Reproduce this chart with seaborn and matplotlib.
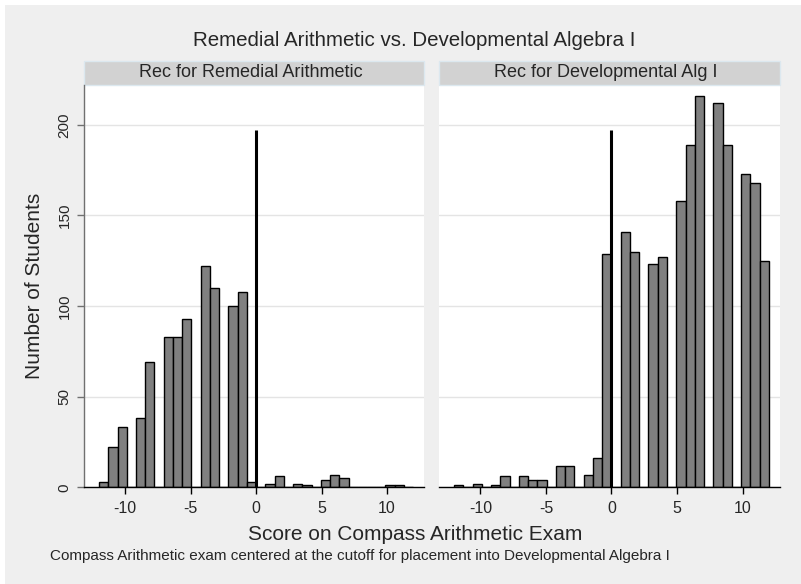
import numpy as np
import pandas as pd
import matplotlib
matplotlib.use("Agg")
import matplotlib.pyplot as plt
import seaborn as sns
from matplotlib.patches import Rectangle

# bins: 34 equal bins from -12 to 12 (Stata default)
bin_edges = list(np.linspace(-12, 12, 35))
bin_centers = [(a + b) / 2 for a, b in zip(bin_edges[:-1], bin_edges[1:])]

panels = ["Rec for Remedial Arithmetic", "Rec for Developmental Alg I"]

# counts per bin
remedial_counts = [3, 22, 33, 0, 38, 69, 0, 83, 83, 93, 0, 122, 110, 0, 100, 108, 3,
                   0, 2, 6, 0, 2, 1, 0, 4, 7, 5, 0, 0, 0, 0, 1, 1, 0]
devalg_counts = [1, 0, 2, 0, 1, 6, 0, 6, 4, 4, 0, 12, 12, 0, 7, 16, 129,
                 0, 141, 130, 0, 123, 127, 0, 158, 189, 216, 0, 212, 189, 0, 173, 168, 125]

cutoff = 0
cutoff_line_top = 197

df = pd.DataFrame({
    "panel": np.repeat(panels, len(bin_centers)),
    "score": bin_centers * 2,
    "count": remedial_counts + devalg_counts,
})

sns.set_style("white")
plt.rcParams['font.family'] = ['Liberation Sans', 'DejaVu Sans']
plt.rcParams['axes.unicode_minus'] = False

bg = "#efefef"
fig = plt.figure(figsize=(8.01, 5.84), dpi=100, facecolor="white")
fig.patches.append(Rectangle((5 / 801, 0), 796 / 801, 579 / 584, transform=fig.transFigure,
                             facecolor=bg, edgecolor="none", zorder=-10))

W, H = 801, 584
ax_bottom = (H - 487.3) / H
ax_height = 402.3 / H
axes = [fig.add_axes([84 / W, ax_bottom, 340.3 / W, ax_height]),
        fig.add_axes([439 / W, ax_bottom, 341 / W, ax_height])]

for ax, name in zip(axes, panels):
    sub = df[df["panel"] == name]
    sns.histplot(data=sub, x="score", weights="count", bins=bin_edges, ax=ax,
                 color="#808080", edgecolor="black", linewidth=1.0, alpha=1.0)
    ax.vlines(cutoff, 0, cutoff_line_top, color="black", linewidth=2.2, zorder=5)
    ax.set_xlim(-13.15, 12.85)
    ax.set_ylim(0, 222)
    ax.set_facecolor("white")
    ax.set_yticks([0, 50, 100, 150, 200])
    ax.set_xticks([-10, -5, 0, 5, 10])
    ax.grid(axis="y", color="#e4e4e4", linewidth=1.0)
    ax.set_axisbelow(True)
    ax.set_xlabel("")
    ax.set_ylabel("")
    for s in ["top", "right"]:
        ax.spines[s].set_visible(False)
    ax.spines["bottom"].set_color("black")
    ax.spines["bottom"].set_linewidth(1.0)
    ax.tick_params(axis="x", direction="out", length=5, width=1, color="black",
                   labelsize=11.5, pad=5, bottom=True)
    # strip header
    ax.add_patch(Rectangle((0, 1.0), 1, 24 / 402.3, transform=ax.transAxes, clip_on=False,
                           facecolor="#d2d2d2", edgecolor="#dce8ef", linewidth=1.0))
    ax.text(0.49, 1.0 + 12 / 402.3, name, transform=ax.transAxes, ha="center", va="center",
            fontsize=13)

left, right = axes
left.spines["left"].set_color("#707070")
left.spines["left"].set_linewidth(1.0)
left.tick_params(axis="y", direction="out", length=5, width=1, color="#707070",
                 labelsize=11, pad=4, left=True)
for lab in left.get_yticklabels():
    lab.set_rotation(90)
    lab.set_va("center")
right.spines["left"].set_visible(False)
right.tick_params(axis="y", left=False, labelleft=False)

fig.text(414 / W, 1 - 40 / H, "Remedial Arithmetic vs. Developmental Algebra I",
         ha="center", va="center", fontsize=14.8)
fig.text(415 / W, 1 - 535 / H, "Score on Compass Arithmetic Exam",
         ha="center", va="center", fontsize=15)
fig.text(35 / W, 1 - 286 / H, "Number of Students", ha="center", va="center",
         rotation=90, fontsize=15)
fig.text(50 / W, 1 - 556 / H,
         "Compass Arithmetic exam centered at the cutoff for placement into Developmental Algebra I",
         ha="left", va="center", fontsize=11)

fig.savefig("out.png", dpi=100, facecolor="white")
